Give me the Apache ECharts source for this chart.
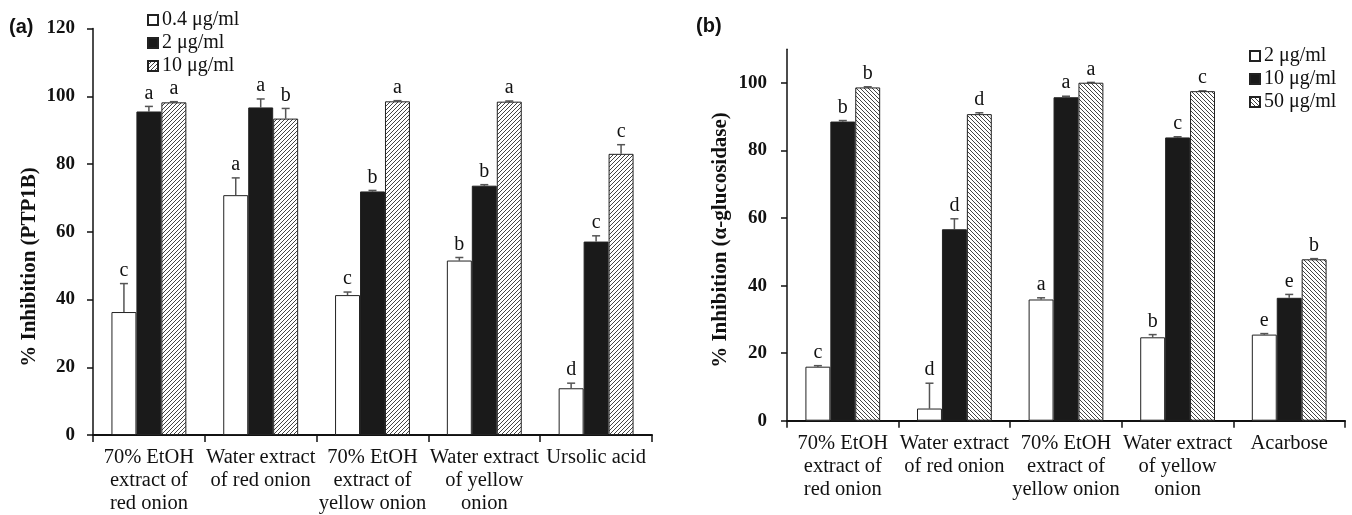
<!DOCTYPE html>
<html>
<head>
<meta charset="utf-8">
<script src="https://cdn.jsdelivr.net/npm/echarts@6/dist/echarts.min.js"></script>
<style>html,body{margin:0;padding:0;background:#fff;}#c{width:1352px;height:515px;}</style>
</head>
<body>
<div id="c"></div>
<script>
// ---------- data ----------
const categoriesA = ['70% EtOH\nextract of\nred onion', 'Water extract\nof red onion', '70% EtOH\nextract of\nyellow onion', 'Water extract\nof yellow\nonion', 'Ursolic acid'];
const categoriesB = ['70% EtOH\nextract of\nred onion', 'Water extract\nof red onion', '70% EtOH\nextract of\nyellow onion', 'Water extract\nof yellow\nonion', 'Acarbose'];
const seriesNamesA = ['0.4 μg/ml', '2 μg/ml', '10 μg/ml'];
const seriesNamesB = ['2 μg/ml', '10 μg/ml', '50 μg/ml'];

const a_04 = [36.3, 70.8, 41.3, 51.5, 13.8];
const a_04_sd = [8.4, 5.1, 0.9, 0.9, 1.5];
const a_04_letters = ['c', 'a', 'c', 'b', 'd'];
const a_2 = [95.5, 96.7, 71.9, 73.6, 57.1];
const a_2_sd = [1.5, 2.5, 0.3, 0.3, 1.7];
const a_2_letters = ['a', 'a', 'b', 'b', 'c'];
const a_10 = [98.2, 93.4, 98.5, 98.4, 83.0];
const a_10_sd = [0.2, 3.0, 0.2, 0.2, 2.7];
const a_10_letters = ['a', 'b', 'a', 'a', 'c'];

const b_2 = [16.0, 3.6, 35.9, 24.7, 25.5];
const b_2_sd = [0.3, 7.5, 0.5, 0.8, 0.3];
const b_2_letters = ['c', 'd', 'a', 'b', 'e'];
const b_10 = [88.6, 56.7, 95.8, 83.9, 36.4];
const b_10_sd = [0.3, 3.1, 0.3, 0.2, 1.0];
const b_10_letters = ['b', 'd', 'a', 'c', 'e'];
const b_50 = [98.7, 90.8, 100.1, 97.6, 47.8];
const b_50_sd = [0.2, 0.4, 0.1, 0.1, 0.2];
const b_50_letters = ['b', 'd', 'a', 'c', 'b'];

const yTicksA = [0, 20, 40, 60, 80, 100, 120];
const yTicksB = [0, 20, 40, 60, 80, 100];

// ---------- styling ----------
const SERIF = "'Liberation Serif','Times New Roman',serif";
const SANS = "'Liberation Sans',Arial,sans-serif";
const GAP = 0.33;

function hatch(dir) {
  const c = document.createElement('canvas');
  c.width = 4; c.height = 4;
  const g = c.getContext('2d');
  g.fillStyle = '#fff'; g.fillRect(0, 0, 4, 4);
  g.strokeStyle = '#444'; g.lineWidth = 1;
  g.beginPath();
  if (dir > 0) {
    g.moveTo(-1, 5); g.lineTo(5, -1);
    g.moveTo(-1, 1); g.lineTo(1, -1);
    g.moveTo(3, 5); g.lineTo(5, 3);
  } else {
    g.moveTo(-1, -1); g.lineTo(5, 5);
    g.moveTo(3, -1); g.lineTo(5, 1);
    g.moveTo(-1, 3); g.lineTo(1, 5);
  }
  g.stroke();
  return c;
}
const fills = ['#ffffff', '#1a1a1a'];
const hatchA = { image: hatch(1), repeat: 'repeat' };
const hatchB = { image: hatch(-1), repeat: 'repeat' };

function barSeries(name, data, idx, color) {
  return {
    type: 'bar', name: name, data: data,
    xAxisIndex: idx, yAxisIndex: idx,
    barGap: 0, barCategoryGap: (GAP * 100) + '%',
    itemStyle: { color: color, borderColor: '#222', borderWidth: 1 },
    emphasis: { disabled: true },
    animation: false
  };
}

function errSeries(idx, vals, sds, letters) {
  const items = [];
  for (let s = 0; s < 3; s++) {
    for (let i = 0; i < vals[s].length; i++) {
      items.push({ cat: i, s: s, v: vals[s][i], sd: sds[s][i], letter: letters[s][i] });
    }
  }
  return {
    type: 'custom', xAxisIndex: idx, yAxisIndex: idx, animation: false, silent: true,
    data: items.map(d => [d.cat, d.v + d.sd]),
    encode: { x: 0, y: 1 },
    renderItem: function (params, api) {
      const d = items[params.dataIndex];
      const base = api.coord([d.cat, d.v]);
      const band = api.size([1, 0])[0];
      const bw = band * (1 - GAP) / 3;
      const cx = base[0] + (d.s - 1) * bw;
      const yv = base[1];
      const yt = api.coord([d.cat, d.v + d.sd])[1];
      const st = { stroke: '#555', lineWidth: 1.5 };
      return {
        type: 'group',
        children: [
          { type: 'line', shape: { x1: cx, y1: yv, x2: cx, y2: yt }, style: st },
          { type: 'line', shape: { x1: cx - 4, y1: yt, x2: cx + 4, y2: yt }, style: st },
          { type: 'text', x: cx, y: yt - 3, style: { text: d.letter, textAlign: 'center', textVerticalAlign: 'bottom', font: '20px ' + SERIF, fill: '#111' } }
        ]
      };
    }
  };
}

function xAxis(idx, cats) {
  return {
    type: 'category', gridIndex: idx, data: cats,
    axisLine: { lineStyle: { color: '#111', width: 2 } },
    axisTick: { show: true, alignWithLabel: false, length: 7, lineStyle: { color: '#111', width: 1.5 } },
    axisLabel: { fontFamily: SERIF, fontSize: 20.5, color: '#111', lineHeight: 23, margin: 11, interval: 0 },
    splitLine: { show: false }
  };
}
function yAxis(idx, max, ticks, margin) {
  return {
    type: 'value', gridIndex: idx, min: 0, max: max, interval: 20,
    axisLine: { show: true, lineStyle: { color: '#111', width: 1.5 } },
    axisTick: { show: true, length: 6, customValues: ticks, lineStyle: { color: '#111', width: 1.5 } },
    axisLabel: { customValues: ticks, fontFamily: SERIF, fontSize: 19, fontWeight: 'bold', color: '#111', margin: margin },
    splitLine: { show: false }
  };
}

const option = {
  backgroundColor: '#fff',
  animation: false,
  grid: [
    { left: 93, right: 700, top: 28.5, bottom: 77.5 },
    { left: 787, right: 7, top: 49.3, bottom: 94.3 }
  ],
  xAxis: [xAxis(0, categoriesA), xAxis(1, categoriesB)],
  yAxis: [yAxis(0, 120, yTicksA, 18), yAxis(1, 110, yTicksB, 20)],
  legend: [
    {
      left: 142, top: 5, orient: 'vertical', itemWidth: 10, itemHeight: 10, itemGap: 3,
      selectedMode: false, icon: 'rect',
      data: seriesNamesA.map(n => 'A|' + n),
      formatter: n => n.split('|')[1],
      textStyle: { fontFamily: SERIF, fontSize: 20, color: '#111', padding: [0, 0, 0, -1] }
    },
    {
      left: 1244, top: 41, orient: 'vertical', itemWidth: 10, itemHeight: 10, itemGap: 3,
      selectedMode: false, icon: 'rect',
      data: seriesNamesB.map(n => 'B|' + n),
      formatter: n => n.split('|')[1],
      textStyle: { fontFamily: SERIF, fontSize: 20, color: '#111', padding: [0, 0, 0, -1] }
    }
  ],
  graphic: [
    { type: 'text', left: 9, top: 17, style: { text: '(a)', font: 'bold 20px ' + SANS, fill: '#111' } },
    { type: 'text', left: 696, top: 16, style: { text: '(b)', font: 'bold 20px ' + SANS, fill: '#111' } },
    { type: 'text', x: 30, y: 267, rotation: Math.PI / 2, style: { text: '% Inhibition (PTP1B)', textAlign: 'center', textVerticalAlign: 'middle', font: 'bold 21px ' + SERIF, fill: '#111' } },
    { type: 'text', x: 721, y: 240, rotation: Math.PI / 2, style: { text: '% Inhibition (α-glucosidase)', textAlign: 'center', textVerticalAlign: 'middle', font: 'bold 21px ' + SERIF, fill: '#111' } }
  ],
  series: [
    barSeries('A|' + seriesNamesA[0], a_04, 0, fills[0]),
    barSeries('A|' + seriesNamesA[1], a_2, 0, fills[1]),
    barSeries('A|' + seriesNamesA[2], a_10, 0, hatchA),
    errSeries(0, [a_04, a_2, a_10], [a_04_sd, a_2_sd, a_10_sd], [a_04_letters, a_2_letters, a_10_letters]),
    barSeries('B|' + seriesNamesB[0], b_2, 1, fills[0]),
    barSeries('B|' + seriesNamesB[1], b_10, 1, fills[1]),
    barSeries('B|' + seriesNamesB[2], b_50, 1, hatchB),
    errSeries(1, [b_2, b_10, b_50], [b_2_sd, b_10_sd, b_50_sd], [b_2_letters, b_10_letters, b_50_letters])
  ]
};
const chart = echarts.init(document.getElementById('c'), null, { renderer: 'canvas' });
chart.setOption(option);
</script>
</body>
</html>
